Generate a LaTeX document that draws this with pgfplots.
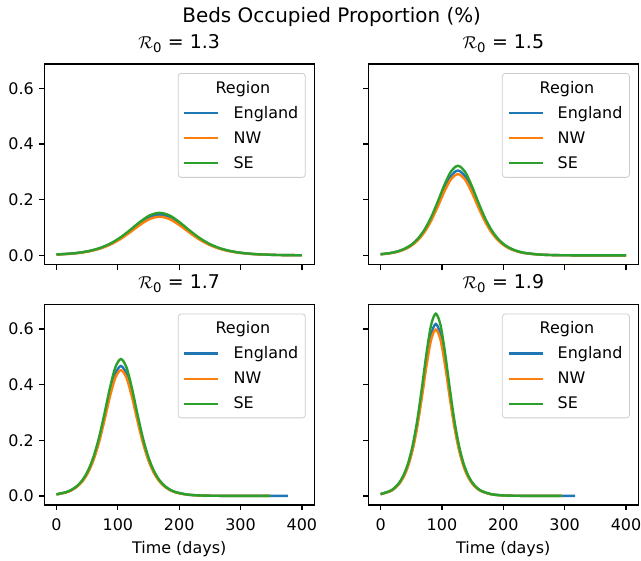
\documentclass[border=0pt]{standalone}
\usepackage{fontspec}
\setmainfont{DejaVu Sans}
\usepackage{pgfplots}
\pgfplotsset{compat=1.18}
\definecolor{tabblue}{HTML}{1F77B4}
\definecolor{taborange}{HTML}{FF7F0E}
\definecolor{tabgreen}{HTML}{2CA02C}

\pgfplotsset{
  panel/.style={
    scale only axis, width=270bp, height=200.5bp,
    xmin=-20, xmax=420, ymin=-0.0328, ymax=0.688,
    xtick={0,100,200,300,400}, ytick={0,0.2,0.4,0.6},
    tick align=outside, xtick pos=bottom, ytick pos=left,
    major tick length=5.4bp,
    every tick/.style={black, line width=1.25bp},
    axis line style={black, line width=1.25bp},
    tick label style={font=\fontsize{16}{19}\selectfont},
    xticklabel style={inner sep=0pt, yshift=-7.6bp},
    yticklabel style={inner sep=0pt, xshift=-4.8bp,
      /pgf/number format/.cd, fixed, fixed zerofill, precision=1},
    /pgf/number format/assume math mode=true,
    title style={at={(0.5,1)}, anchor=base, yshift=9.7bp,
      font=\fontsize{19}{22}\selectfont},
    xlabel style={at={(0.5,0)}, anchor=base, yshift=-48bp,
      font=\fontsize{16}{19}\selectfont},
    every axis plot/.append style={line width=2.4bp, smooth},
    legend image code/.code={\draw[#1] (0bp,0bp) -- (34bp,0bp);},
    legend cell align=left,
    legend style={at={(1,1)}, anchor=north east, xshift=-8.5bp, yshift=-9bp,
      draw=black!20, line width=0.8bp, rounded corners=3bp,
      fill=white, fill opacity=0.8, text opacity=1,
      inner xsep=5bp, inner ysep=5.5bp, row sep=7.8bp, column sep=12bp,
      font=\fontsize{16}{19}\selectfont},
  },
}

\begin{document}
\begin{tikzpicture}
\path[use as bounding box] (0,0) rectangle (641bp,-561bp);
\node[anchor=base, font=\fontsize{20}{24}\selectfont] at (331.7bp,-22.7bp) {Beds Occupied Proportion (\%)};

% R0 = 1.3
\begin{axis}[panel, at={(44.2bp,-64bp)}, anchor=north west,
  xticklabels={}, title={\(\mathcal{R}\)\textsubscript{0} = 1.3}]
\addlegendimage{empty legend}
\addlegendentry{\hspace*{-18bp}Region}
\addplot[tabblue] coordinates {(0,0.0030)(24,0.0064)(40,0.0103)(56,0.0166)(72,0.0264)(88,0.0409)(104,0.0613)(120,0.0871)(136,0.1148)(152,0.1372)(168,0.1460)(184,0.1372)(200,0.1148)(216,0.0871)(232,0.0613)(248,0.0409)(264,0.0264)(280,0.0166)(296,0.0103)(312,0.0064)(328,0.0039)(360,0.0014)(400,0.0004)};
\addlegendentry{England}
\addplot[taborange] coordinates {(0,0.0029)(24,0.0060)(40,0.0098)(56,0.0158)(72,0.0251)(88,0.0390)(104,0.0584)(120,0.0829)(136,0.1093)(152,0.1307)(168,0.1390)(184,0.1307)(200,0.1093)(216,0.0829)(232,0.0584)(248,0.0390)(264,0.0251)(280,0.0158)(296,0.0098)(312,0.0060)(328,0.0037)(360,0.0014)(400,0.0004)};
\addlegendentry{NW}
\addplot[tabgreen] coordinates {(0,0.0032)(24,0.0067)(40,0.0108)(56,0.0174)(72,0.0276)(88,0.0429)(104,0.0643)(120,0.0913)(136,0.1203)(152,0.1438)(168,0.1530)(184,0.1438)(200,0.1203)(216,0.0913)(232,0.0643)(248,0.0429)(264,0.0276)(280,0.0174)(296,0.0108)(312,0.0067)(328,0.0041)(360,0.0015)(400,0.0004)};
\addlegendentry{SE}
\end{axis}

% R0 = 1.5
\begin{axis}[panel, at={(368.3bp,-64bp)}, anchor=north west,
  xticklabels={}, yticklabels={}, title={\(\mathcal{R}\)\textsubscript{0} = 1.5}]
\addlegendimage{empty legend}
\addlegendentry{\hspace*{-18bp}Region}
\addplot[tabblue] coordinates {(0,0.0039)(16,0.0081)(27,0.0133)(38,0.0216)(49,0.0347)(60,0.0551)(71,0.0855)(82,0.1281)(93,0.1820)(104,0.2399)(115,0.2867)(126,0.3050)(137,0.2867)(148,0.2399)(159,0.1820)(170,0.1281)(181,0.0855)(192,0.0551)(203,0.0347)(214,0.0216)(225,0.0133)(236,0.0081)(258,0.0030)(280,0.0011)(302,0.0004)(350,0.0000)(400,0.0000)};
\addlegendentry{England}
\addplot[taborange] coordinates {(0,0.0038)(16,0.0078)(27,0.0127)(38,0.0206)(49,0.0332)(60,0.0528)(71,0.0819)(82,0.1226)(93,0.1742)(104,0.2296)(115,0.2745)(126,0.2920)(137,0.2745)(148,0.2296)(159,0.1742)(170,0.1226)(181,0.0819)(192,0.0528)(203,0.0332)(214,0.0206)(225,0.0127)(236,0.0078)(258,0.0029)(280,0.0011)(302,0.0004)(350,0.0000)(400,0.0000)};
\addlegendentry{NW}
\addplot[tabgreen] coordinates {(0,0.0042)(16,0.0086)(27,0.0140)(38,0.0228)(49,0.0366)(60,0.0582)(71,0.0903)(82,0.1352)(93,0.1921)(104,0.2532)(115,0.3027)(126,0.3220)(137,0.3027)(148,0.2532)(159,0.1921)(170,0.1352)(181,0.0903)(192,0.0582)(203,0.0366)(214,0.0228)(225,0.0140)(236,0.0086)(258,0.0032)(280,0.0012)(302,0.0004)(350,0.0000)(400,0.0000)};
\addlegendentry{SE}
\end{axis}

% R0 = 1.7
\begin{axis}[panel, at={(44.2bp,-304.5bp)}, anchor=north west,
  xlabel={Time (days)}, title={\(\mathcal{R}\)\textsubscript{0} = 1.7}]
\addlegendimage{empty legend}
\addlegendentry{\hspace*{-18bp}Region}
\addplot[tabblue] coordinates {(0,0.0054)(15,0.0124)(24,0.0203)(33,0.0330)(42,0.0531)(51,0.0844)(60,0.1309)(69,0.1961)(78,0.2786)(87,0.3673)(96,0.4390)(105,0.4670)(114,0.4390)(123,0.3673)(132,0.2786)(141,0.1961)(150,0.1309)(159,0.0844)(168,0.0531)(177,0.0330)(186,0.0203)(195,0.0124)(213,0.0046)(231,0.0017)(249,0.0006)(285,0.0001)(348,0.0000)(377,0.0000)};
\addlegendentry{England}
\addplot[taborange] coordinates {(0,0.0053)(15,0.0120)(24,0.0197)(33,0.0320)(42,0.0514)(51,0.0817)(60,0.1267)(69,0.1898)(78,0.2697)(87,0.3555)(96,0.4249)(105,0.4520)(114,0.4249)(123,0.3555)(132,0.2697)(141,0.1898)(150,0.1267)(159,0.0817)(168,0.0514)(177,0.0320)(186,0.0197)(195,0.0120)(213,0.0045)(231,0.0016)(249,0.0006)(285,0.0001)(348,0.0000)};
\addlegendentry{NW}
\addplot[tabgreen] coordinates {(0,0.0057)(15,0.0131)(24,0.0214)(33,0.0348)(42,0.0560)(51,0.0889)(60,0.1380)(69,0.2066)(78,0.2935)(87,0.3869)(96,0.4625)(105,0.4920)(114,0.4625)(123,0.3869)(132,0.2935)(141,0.2066)(150,0.1380)(159,0.0889)(168,0.0560)(177,0.0348)(186,0.0214)(195,0.0131)(213,0.0049)(231,0.0018)(249,0.0007)(285,0.0001)(348,0.0000)};
\addlegendentry{SE}
\end{axis}

% R0 = 1.9
\begin{axis}[panel, at={(368.3bp,-304.5bp)}, anchor=north west,
  yticklabels={}, xlabel={Time (days)}, title={\(\mathcal{R}\)\textsubscript{0} = 1.9}]
\addlegendimage{empty legend}
\addlegendentry{\hspace*{-18bp}Region}
\addplot[tabblue] coordinates {(0,0.0061)(15,0.0164)(22.5,0.0269)(30,0.0437)(37.5,0.0703)(45,0.1117)(52.5,0.1733)(60,0.2596)(67.5,0.3687)(75,0.4860)(82.5,0.5809)(90,0.6180)(97.5,0.5809)(105,0.4860)(112.5,0.3687)(120,0.2596)(127.5,0.1733)(135,0.1117)(142.5,0.0703)(150,0.0437)(157.5,0.0269)(165,0.0164)(180,0.0061)(195,0.0022)(210,0.0008)(240,0.0001)(295,0.0000)(317,0.0000)};
\addlegendentry{England}
\addplot[taborange] coordinates {(0,0.0059)(15,0.0159)(22.5,0.0260)(30,0.0423)(37.5,0.0681)(45,0.1081)(52.5,0.1677)(60,0.2512)(67.5,0.3568)(75,0.4703)(82.5,0.5621)(90,0.5980)(97.5,0.5621)(105,0.4703)(112.5,0.3568)(120,0.2512)(127.5,0.1677)(135,0.1081)(142.5,0.0681)(150,0.0423)(157.5,0.0260)(165,0.0159)(180,0.0059)(195,0.0022)(210,0.0008)(240,0.0001)(295,0.0000)};
\addlegendentry{NW}
\addplot[tabgreen] coordinates {(0,0.0064)(15,0.0173)(22.5,0.0285)(30,0.0463)(37.5,0.0745)(45,0.1183)(52.5,0.1836)(60,0.2750)(67.5,0.3908)(75,0.5151)(82.5,0.6157)(90,0.6550)(97.5,0.6157)(105,0.5151)(112.5,0.3908)(120,0.2750)(127.5,0.1836)(135,0.1183)(142.5,0.0745)(150,0.0463)(157.5,0.0285)(165,0.0173)(180,0.0064)(195,0.0023)(210,0.0009)(240,0.0001)(295,0.0000)};
\addlegendentry{SE}
\end{axis}
\end{tikzpicture}
\end{document}
